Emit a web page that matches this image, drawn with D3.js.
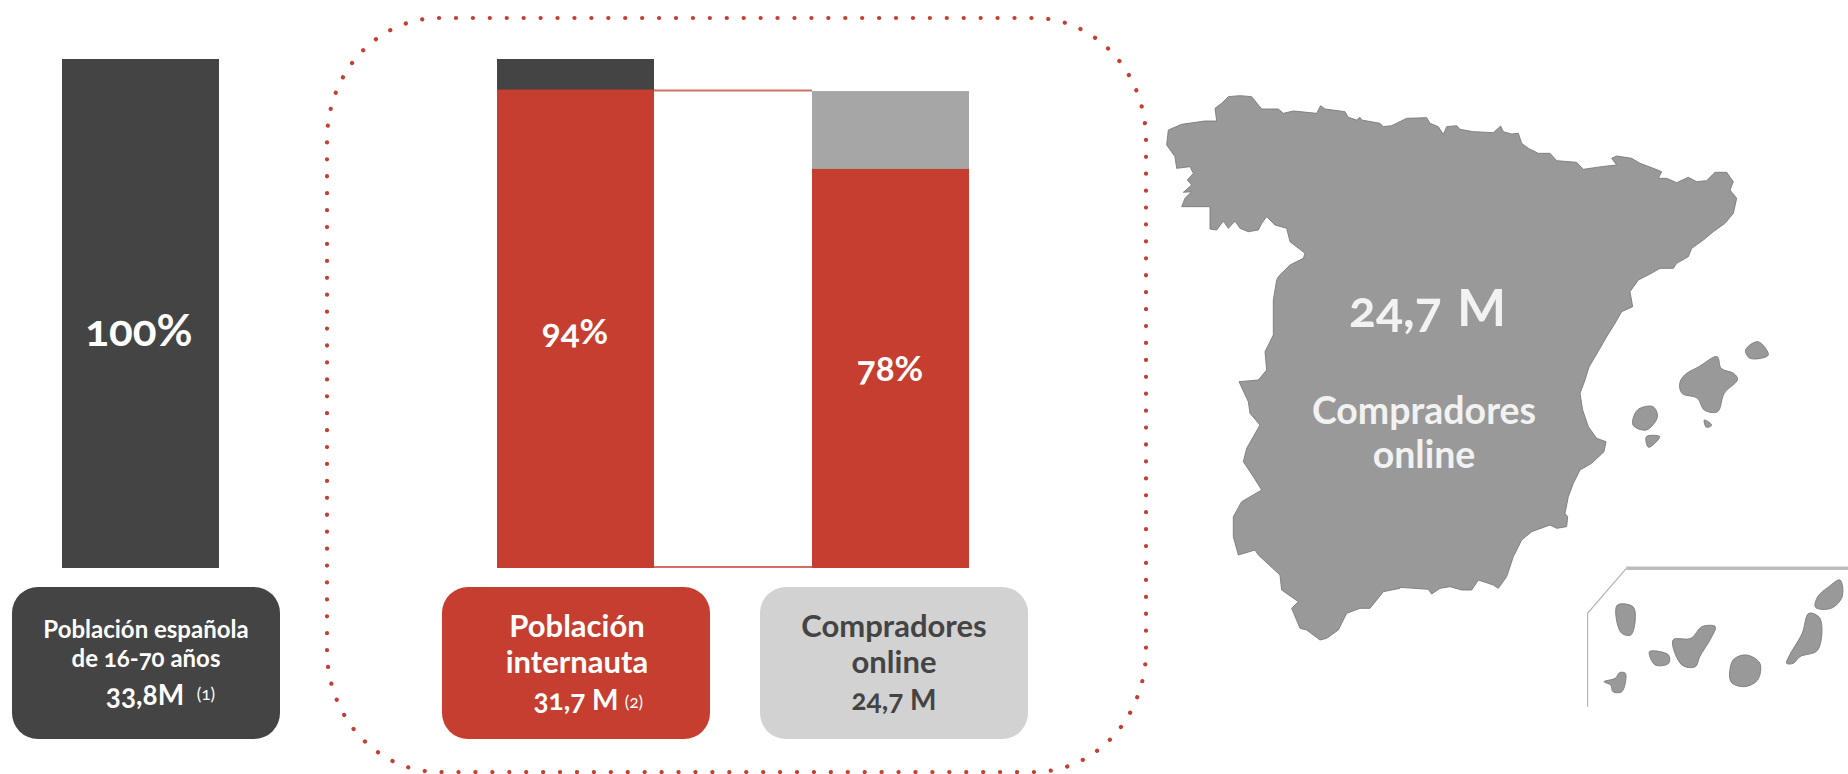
<!DOCTYPE html>
<html>
<head>
<meta charset="utf-8">
<script src="https://cdn.jsdelivr.net/npm/d3@7"></script>
<style>
html,body{margin:0;padding:0;background:#fff;}
svg{display:block;}
text{font-family:"Lato",sans-serif;font-variant-numeric:oldstyle-nums;}
</style>
</head>
<body>
<div id="chart"></div>
<script>
// values
var bars = ['Población española','Población internauta','Compradores online'];
var barTotals = [100, 100, 93.7];
var barReds = [0, 94, 78.4];
var barLabels = ['100%','94%','78%'];
var boxLines = [
	['Población española','de 16-70 años'],
	['Población','internauta'],
	['Compradores','online']
];
var boxValues = ['33,8M','31,7 M','24,7 M'];
var boxNotes = ['(1)','(2)',''];

var coastNorthWest = [[165,70],[185,55],[205,35],[240,32],[275,35],[295,60],[305,72],[355,72],[370,85],[400,78],[470,85],[482,62],[495,72],[555,80],[565,97],[590,105],[600,97],[605,105],[660,115],[670,125],[695,122],[740,100],[800,98],[810,115],[835,125],[850,148],[860,125],[890,122]];
var coastNorthEast = [[60,28],[100,35],[160,38],[182,18],[190,35],[215,42],[235,40],[245,70],[265,85],[295,100],[330,100],[350,122],[410,127],[430,148],[485,140],[530,135],[515,115],[530,108],[575,115],[600,130],[640,145],[665,155],[655,175],[680,175],[710,188],[745,172],[770,185],[800,182],[825,157],[860,157],[880,185],[870,210],[890,235],[880,280],[855,310],[820,335],[790,360],[755,385],[745,410],[710,430],[700,445],[660,445],[630,462],[595,480],[570,515],[578,560],[545,575],[525,610],[500,650],[477,690],[447,741]];
var coastSouthEast = [[555,0],[540,40],[548,90],[565,140],[590,175],[618,185],[612,215],[575,250],[540,270],[520,310],[505,350],[495,400],[503,410],[500,440],[470,445],[450,435],[395,455],[365,480],[340,530],[320,590],[295,625],[280,615],[235,600],[215,630],[185,630],[150,620],[120,625],[95,642],[85,628],[0,622]];
var coastSouthWest = [[540,925],[490,935],[450,985],[420,985],[380,1000],[355,1050],[320,1075],[300,1080],[260,1050],[240,1045],[215,985],[235,965],[185,930],[180,885],[115,825],[105,810],[55,825],[40,770],[40,710],[65,665],[125,630],[100,590],[70,545],[80,505],[120,435],[90,400],[85,365],[57,305],[115,300],[140,270],[135,215],[160,165],[160,60],[170,0]];
var coastGalicia = [[355,575],[390,540],[430,520],[435,505],[390,470],[380,430],[345,420],[320,395],[305,415],[295,435],[265,440],[240,430],[225,408],[205,430],[190,408],[170,435],[150,432],[150,365],[65,365],[75,340],[95,320],[70,322],[95,300],[82,285],[100,265],[90,245],[50,250],[45,215],[20,180],[25,135],[65,118],[135,108],[170,108]];
var islands = [
	[[1338,-60],[1366,-85],[1389,-45],[1348,-35]],
	[[1190,40],[1201,15],[1233,-10],[1274,-40],[1283,-5],[1311,10],[1320,28],[1290,70],[1275,125],[1245,120],[1230,85],[1195,70]],
	[[1095,120],[1130,110],[1140,140],[1115,180],[1085,165]],
	[[1115,200],[1145,200],[1120,232]],
	[[1245,150],[1262,165],[1250,172]],
	[[1050,705],[1085,710],[1090,750],[1080,795],[1060,790],[1048,750]],
	[[1122,845],[1165,855],[1165,880],[1135,885]],
	[[1175,810],[1215,805],[1240,770],[1270,770],[1260,805],[1235,860],[1225,890],[1195,885]],
	[[1310,870],[1340,855],[1370,880],[1365,930],[1335,950],[1305,935]],
	[[1480,730],[1505,745],[1500,840],[1460,860],[1445,880],[1430,880],[1435,860],[1465,790]],
	[[1550,630],[1555,680],[1530,715],[1495,712],[1500,680],[1525,650]],
	[[1020,935],[1045,925],[1055,908],[1068,910],[1060,965],[1040,965],[1035,945]]
];
var canaryFrame = [[983,1010],[983,730],[1070,595]];
var canaryTop = [[1070,595],[1568,595]];

var width = 1848, height = 774;
var red = '#c53e30', dark = '#444444';

var svg = d3.select('#chart').append('svg')
	.attr('width', width)
	.attr('height', height);

// dotted frame round the two right hand bars
svg.append('rect')
	.attr('x', 327).attr('y', 18)
	.attr('width', 819).attr('height', 754)
	.attr('rx', 112).attr('ry', 122)
	.attr('pathLength', 174)
	.attr('fill', 'none')
	.attr('stroke', red)
	.attr('stroke-width', 4.2)
	.attr('stroke-linecap', 'round')
	.attr('stroke-dasharray', '0.005 0.995');

var y = d3.scaleLinear().domain([0, 100]).range([568, 59]);
var barX = d3.scaleOrdinal().domain(bars).range([62, 497, 812]);
var barW = 157;
var boxX = d3.scaleOrdinal().domain(bars).range([12, 442, 760]);
var boxW = 268;

// thin red lines linking the two bars
svg.selectAll('.link')
	.data([barReds[1], 0])
	.enter().append('line')
	.attr('class', 'link')
	.attr('x1', barX(bars[1]) + barW)
	.attr('x2', barX(bars[2]))
	.attr('y1', function(d, i){ return i === 0 ? y(d) + 1 : y(d) - 1; })
	.attr('y2', function(d, i){ return i === 0 ? y(d) + 1 : y(d) - 1; })
	.attr('stroke', red)
	.attr('stroke-opacity', 0.75)
	.attr('stroke-width', 2);

// full bars
svg.selectAll('.total')
	.data(bars)
	.enter().append('rect')
	.attr('class', 'total')
	.attr('x', function(d){ return barX(d); })
	.attr('y', function(d, i){ return y(barTotals[i]); })
	.attr('width', barW)
	.attr('height', function(d, i){ return y(0) - y(barTotals[i]); })
	.attr('fill', function(d, i){ return i === 2 ? '#a6a6a6' : dark; });

// red part of the bars
svg.selectAll('.part')
	.data(bars)
	.enter().append('rect')
	.attr('class', 'part')
	.attr('x', function(d){ return barX(d); })
	.attr('y', function(d, i){ return y(barReds[i]); })
	.attr('width', barW)
	.attr('height', function(d, i){ return y(0) - y(barReds[i]); })
	.attr('fill', red);

var labelY = [346, 344, 381];
var labelX = [139, 575, 890];
svg.selectAll('.pct')
	.data(barLabels)
	.enter().append('text')
	.attr('class', 'pct')
	.attr('x', function(d, i){ return labelX[i]; })
	.attr('y', function(d, i){ return labelY[i]; })
	.attr('text-anchor', 'middle')
	.attr('font-size', function(d, i){ return i === 0 ? 44 : 35; })
	.attr('font-weight', 700)
	.attr('fill', '#fff')
	.text(function(d){ return d; });

// boxes under the bars
var boxFill = [dark, red, '#d2d2d2'];
var boxText = ['#fff', '#fff', dark];
var boxCx = [146, 577, 894];
var lineY = [[638, 667], [637, 673], [637, 673]];
var lineSize = [24, 31, 31];
var valueX = [145, 576, 894];
var valueY = [705, 710, 710];
var valueSize = [28, 28, 28];
var noteX = [206, 634];
var noteY = [700, 708];

var box = svg.selectAll('.box')
	.data(bars)
	.enter().append('g')
	.attr('class', 'box');

box.append('rect')
	.attr('x', function(d){ return boxX(d); })
	.attr('y', 587)
	.attr('width', boxW)
	.attr('height', 152)
	.attr('rx', 26)
	.attr('fill', function(d, i){ return boxFill[i]; });

box.each(function(d, i){
	var g = d3.select(this);
	boxLines[i].forEach(function(line, j){
		g.append('text')
			.attr('x', boxCx[i])
			.attr('y', lineY[i][j])
			.attr('text-anchor', 'middle')
			.attr('font-size', lineSize[i])
			.attr('font-weight', 700)
			.attr('fill', boxText[i])
			.text(line);
	});
	g.append('text')
		.attr('x', valueX[i])
		.attr('y', valueY[i])
		.attr('text-anchor', 'middle')
		.attr('font-size', valueSize[i])
		.attr('font-weight', 700)
		.attr('fill', boxText[i])
		.text(boxValues[i]);
	if(boxNotes[i]){
		g.append('text')
			.attr('x', noteX[i])
			.attr('y', noteY[i])
			.attr('text-anchor', 'middle')
			.attr('font-size', 17)
			.attr('fill', boxText[i])
			.text(boxNotes[i]);
	}
});

// map, each crop of the coast has its own offset in the picture at 3x
function cropLine(left, top) {
	return d3.line()
		.x(function(d){ return left + d[0] / 3; })
		.y(function(d){ return top + d[1] / 3; });
}
function coastPath(line, pts) {
	return line(pts).replace('M', 'L');
}
var coast = 'M' + cropLine(1160, 85)(coastNorthWest).slice(1)
	+ coastPath(cropLine(1440, 120), coastNorthEast)
	+ coastPath(cropLine(1400, 380), coastSouthEast)
	+ coastPath(cropLine(1220, 280), coastSouthWest)
	+ coastPath(cropLine(1160, 85), coastGalicia) + 'Z';

svg.append('path')
	.attr('d', coast)
	.attr('fill', '#999999')
	.attr('stroke', '#7a7a7a')
	.attr('stroke-width', 0.9);

var bx = d3.scaleLinear().domain([0, 1568]).range([1150, 1848]);
var by = d3.scaleLinear().domain([0, 1050]).range([370, 720]);
var lineB = d3.line().x(function(d){ return bx(d[0]); }).y(function(d){ return by(d[1]); });
var islandLine = d3.line().x(function(d){ return bx(d[0]); }).y(function(d){ return by(d[1]); })
	.curve(d3.curveCatmullRomClosed);

svg.selectAll('.island')
	.data(islands)
	.enter().append('path')
	.attr('class', 'island')
	.attr('d', function(d){ return islandLine(d); })
	.attr('fill', '#999999')
	.attr('stroke', '#7a7a7a')
	.attr('stroke-width', 0.9);

svg.append('path')
	.attr('d', lineB(canaryFrame))
	.attr('fill', 'none')
	.attr('stroke', '#b5b5b5')
	.attr('stroke-width', 1.2);
svg.append('path')
	.attr('d', lineB(canaryTop))
	.attr('fill', 'none')
	.attr('stroke', '#bdbdbd')
	.attr('stroke-width', 3.5);

// map labels
svg.append('text')
	.attr('x', 1349).attr('y', 327)
	.attr('font-size', 50)
	.attr('font-weight', 700)
	.attr('fill', '#f2f2f2')
	.text('24,7');
svg.append('text')
	.attr('x', 1457).attr('y', 326)
	.attr('font-size', 52)
	.attr('font-weight', 700)
	.attr('fill', '#f2f2f2')
	.text('M');
svg.selectAll('.maptext')
	.data(['Compradores','online'])
	.enter().append('text')
	.attr('class', 'maptext')
	.attr('x', 1424)
	.attr('y', function(d, i){ return i === 0 ? 424 : 468; })
	.attr('text-anchor', 'middle')
	.attr('font-size', 37.5)
	.attr('font-weight', 700)
	.attr('fill', '#f2f2f2')
	.text(function(d){ return d; });
</script>
</body>
</html>
